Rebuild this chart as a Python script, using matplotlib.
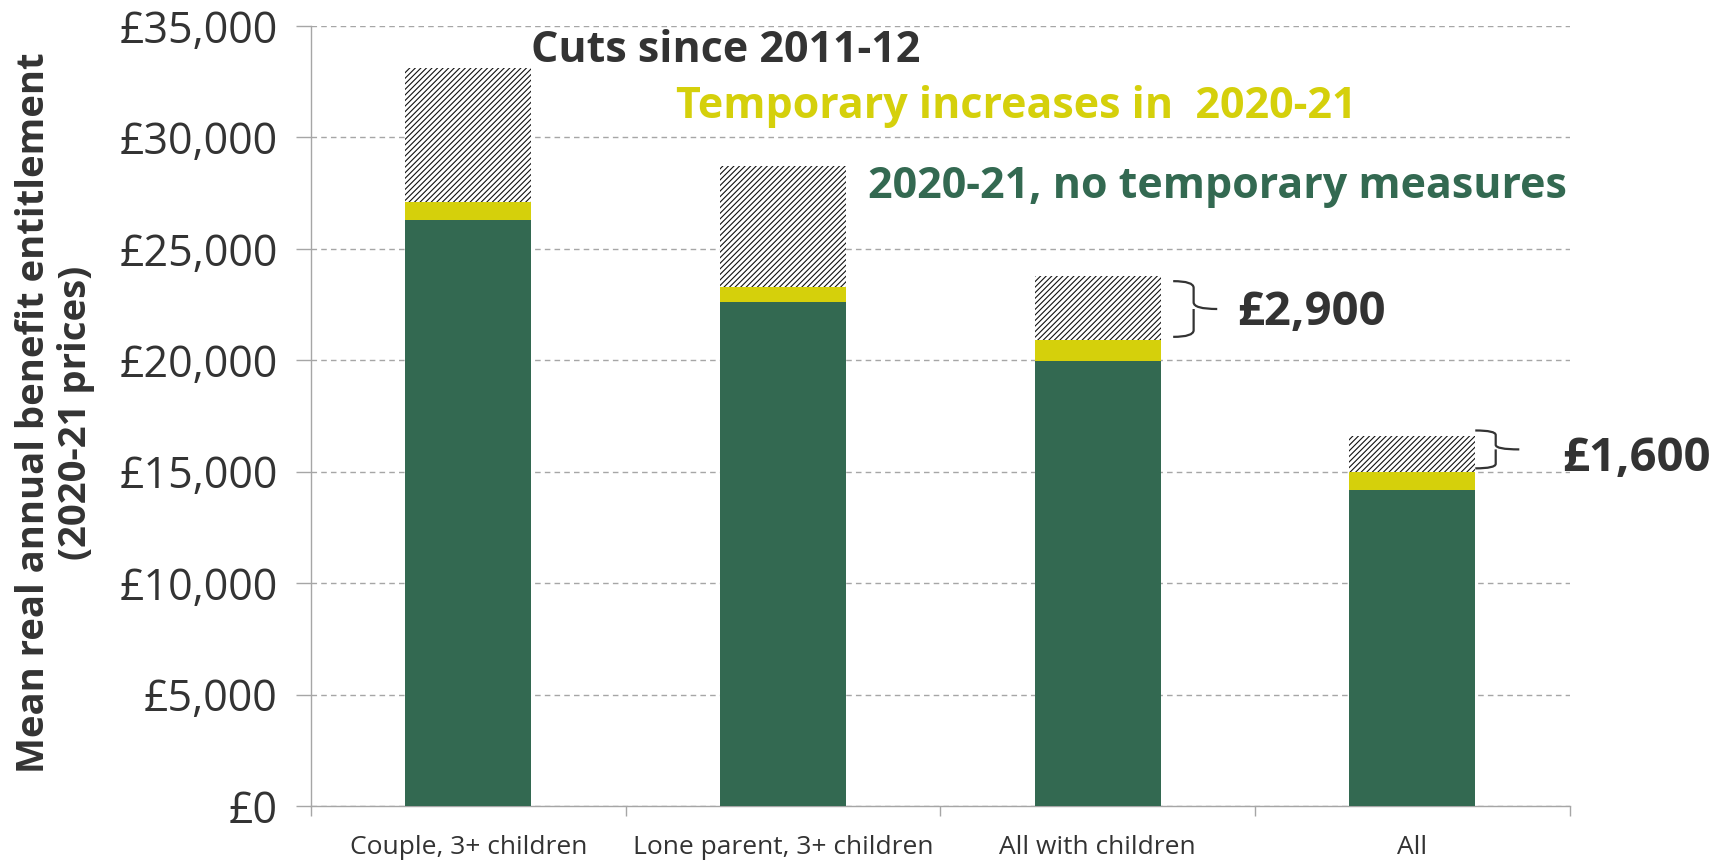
import matplotlib
matplotlib.use('Agg')
import matplotlib.pyplot as plt
import numpy as np
from matplotlib.path import Path
from matplotlib.patches import PathPatch
from matplotlib.ticker import FuncFormatter, FixedLocator

# Mean annual benefit entitlement, 2020-21 prices
groups = ['Couple, 3+ children', 'Lone parent, 3+ children', 'All with children', 'All']
base_2020 = [26300, 22600, 19950, 14200]      # 2020-21, no temporary measures
temp_incr = [800, 700, 950, 800]              # temporary increases in 2020-21
cuts = [6000, 5400, 2900, 1600]               # cuts since 2011-12
cut_labels = {2: '£2,900', 3: '£1,600'}

GREEN = '#336951'
YELLOW = '#D5D00B'
DARK = '#333333'
GRID = '#A6A6A6'

plt.rcParams['font.family'] = ['Open Sans', 'DejaVu Sans']
plt.rcParams['hatch.linewidth'] = 0.8
plt.rcParams['hatch.color'] = '#111111'

fig = plt.figure(figsize=(17.23, 8.6), dpi=100)
ax = fig.add_axes([0.1805, 0.0628, 0.7305, 0.907])

x = np.arange(len(groups))
base = np.array(base_2020)
incr = np.array(temp_incr)
cut = np.array(cuts)
w = 0.4

ax.bar(x, base, w, color=GREEN, zorder=3)
ax.bar(x, incr, w, bottom=base, color=YELLOW, zorder=3)
ax.bar(x, cut, w, bottom=base + incr, color='white', hatch='//////',
       edgecolor='#111111', linewidth=0, zorder=3)

ax.set_xlim(-0.5, len(groups) - 0.5)
ax.set_ylim(0, 35000)
ax.set_yticks(np.arange(0, 35001, 5000))
ax.yaxis.set_major_formatter(FuncFormatter(lambda v, p: '£{:,.0f}'.format(v)))
ax.yaxis.grid(True, color=GRID, linestyle=(0, (4, 3)), linewidth=1.0, zorder=0)
ax.tick_params(axis='y', length=11, color=GRID, width=1.0, pad=13,
               labelsize=31, labelcolor=DARK)

ax.set_xticks(x)
ax.set_xticklabels(groups)
ax.xaxis.set_minor_locator(FixedLocator(np.arange(-0.5, len(groups), 1.0)))
ax.tick_params(axis='x', which='major', length=0, pad=21, labelsize=19, labelcolor=DARK)
ax.tick_params(axis='x', which='minor', length=7, color=GRID, width=1.0)

for s in ['top', 'right']:
    ax.spines[s].set_visible(False)
for s in ['left', 'bottom']:
    ax.spines[s].set_color(GRID)
    ax.spines[s].set_linewidth(1.0)

fig.text(0.032, 0.52, 'Mean real annual benefit entitlement\n(2020-21 prices)',
         rotation=90, ha='center', va='center', multialignment='center',
         fontsize=27.5, fontweight='bold', color=DARK, linespacing=1.15)

# series names written straight onto the plot
ax.text(0.199, 33400, 'Cuts since 2011-12', fontsize=31, fontweight='bold',
        color=DARK, va='baseline')
ax.text(0.66, 30850, 'Temporary increases in  2020-21', fontsize=31,
        fontweight='bold', color=YELLOW, va='baseline')
ax.text(3.49, 27300, '2020-21, no temporary measures', fontsize=31,
        fontweight='bold', color=GREEN, va='baseline', ha='right')


def brace(ax, x0, y0, y1, width, arm):
    # curly bracket opening to the left, pointing right
    x1 = x0 + arm
    x2 = x0 + width
    ym = (y0 + y1) / 2
    r = (y1 - y0) * 0.12
    verts = [(x0, y1), (x1, y1), (x1, y1 - r),
             (x1, ym + r), (x1, ym), (x2, ym),
             (x1, ym), (x1, ym - r),
             (x1, y0 + r), (x1, y0), (x0, y0)]
    codes = [Path.MOVETO, Path.CURVE3, Path.CURVE3,
             Path.LINETO, Path.CURVE3, Path.CURVE3,
             Path.MOVETO, Path.CURVE3,
             Path.LINETO, Path.CURVE3, Path.CURVE3]
    ax.add_patch(PathPatch(Path(verts, codes), facecolor='none',
                           edgecolor=DARK, linewidth=1.6, zorder=4,
                           clip_on=False))


for i, label in cut_labels.items():
    lo = base[i] + incr[i]
    hi = lo + cut[i]
    gap = 0.04 if i == 2 else 0.0
    brace(ax, i + w / 2 + gap, lo + 150, hi - 250 if i == 2 else hi + 250,
          0.14, 0.065)
    ax.text(i + 0.442 if i == 2 else i + 0.475, (lo + hi) / 2 - 200, label,
            fontsize=34, fontweight='bold', color=DARK, va='center', ha='left')

fig.savefig('out.png', dpi=100)
